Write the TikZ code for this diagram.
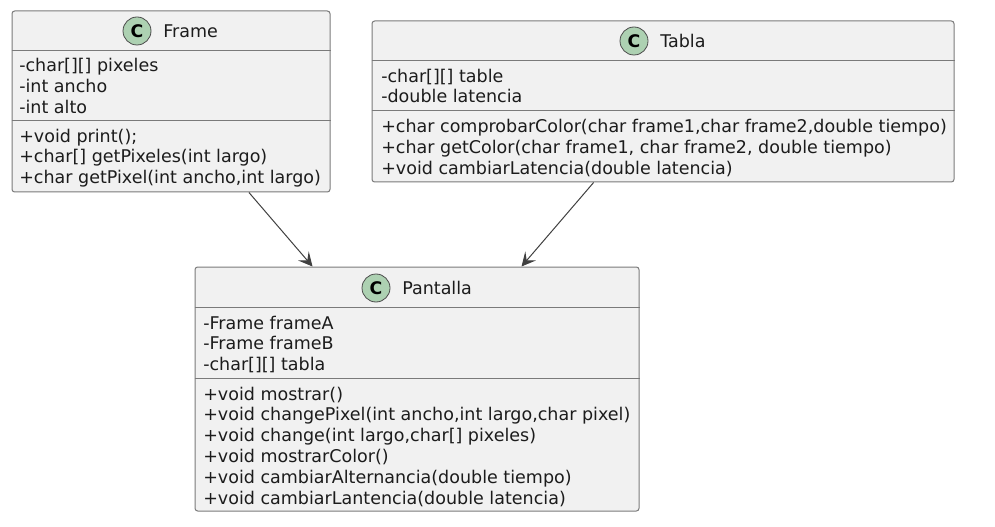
\documentclass[tikz,border=0pt]{standalone}
\usepackage{fontspec}
\setmainfont{DejaVu Sans}
\usetikzlibrary{arrows.meta}
\definecolor{boxfill}{HTML}{F1F1F1}
\definecolor{boxline}{HTML}{7A7A7A}
\definecolor{spotfill}{HTML}{ADD1B2}
\definecolor{textcol}{HTML}{1C1C1C}
\tikzset{
  classbox/.style={draw=boxline, fill=boxfill, line width=0.75pt, rounded corners=2pt, inner sep=0pt},
  spot/.style={draw=black!70, fill=spotfill, circle, line width=0.6pt, minimum size=21pt, inner sep=0pt, font=\fontsize{13pt}{14pt}\selectfont\bfseries, text=black},
  title/.style={font=\fontsize{13.13pt}{14pt}\selectfont, text=textcol, anchor=base west, inner sep=0pt},
  members/.style={font=\fontsize{13.13pt}{15.6pt}\selectfont, text=textcol, anchor=north west, align=left, inner sep=0pt},
  assoc/.style={-{Stealth[length=10.5pt, width=10.5pt, inset=4.5pt]}, draw=black!75, line width=0.75pt}
}
\begin{document}
\begin{tikzpicture}[x=0.75pt, y=-0.75pt]
\useasboundingbox (0,0) rectangle (995,527);
% Frame class
\node[classbox, minimum width=238.5pt, minimum height=135.75pt] (frame) at (171,101.5) {};
\draw[boxline, line width=0.75pt] (frame.west |- 0,51) -- (frame.east |- 0,51);
\draw[boxline, line width=0.75pt] (frame.west |- 0,121) -- (frame.east |- 0,121);
\node[spot] (framespot) at (137,31) {C};
\node[title] (frametitle) at (163,37.5) {Frame};
\node[members] (frameattr) at (19,58) {-char[][] pixeles\\-int ancho\\-int alto};
\node[members] (framemeth) at (19,128.5) {+void print();\\+char[] getPixeles(int largo)\\+char getPixel(int ancho,int largo)};

% Tabla class
\node[classbox, minimum width=436.5pt, minimum height=120.75pt] (tabla) at (663,101.5) {};
\draw[boxline, line width=0.75pt] (tabla.west |- 0,61) -- (tabla.east |- 0,61);
\draw[boxline, line width=0.75pt] (tabla.west |- 0,111) -- (tabla.east |- 0,111);
\node[spot] (tablaspot) at (634,41) {C};
\node[title] (tablatitle) at (660,47.5) {Tabla};
\node[members] (tablaattr) at (381,68.5) {-char[][] table\\-double latencia};
\node[members] (tablameth) at (381,119) {+char comprobarColor(char frame1,char frame2,double tiempo)\\+char getColor(char frame1, char frame2, double tiempo)\\+void cambiarLatencia(double latencia)};

% Pantalla class
\node[classbox, minimum width=333pt, minimum height=183pt] (pantalla) at (417,389) {};
\draw[boxline, line width=0.75pt] (pantalla.west |- 0,307) -- (pantalla.east |- 0,307);
\draw[boxline, line width=0.75pt] (pantalla.west |- 0,378) -- (pantalla.east |- 0,378);
\node[spot] (pantallaspot) at (376,288) {C};
\node[title] (pantallatitle) at (402,294.5) {Pantalla};
\node[members] (pantallaattr) at (203,315.5) {-Frame frameA\\-Frame frameB\\-char[][] tabla};
\node[members] (pantallameth) at (203,386.5) {+void mostrar()\\+void changePixel(int ancho,int largo,char pixel)\\+void change(int largo,char[] pixeles)\\+void mostrarColor()\\+void cambiarAlternancia(double tiempo)\\+void cambiarLantencia(double latencia)};

% Arrows
\draw[assoc] (frame) -- (pantalla);
\draw[assoc] (tabla) -- (pantalla);
\end{tikzpicture}
\end{document}
